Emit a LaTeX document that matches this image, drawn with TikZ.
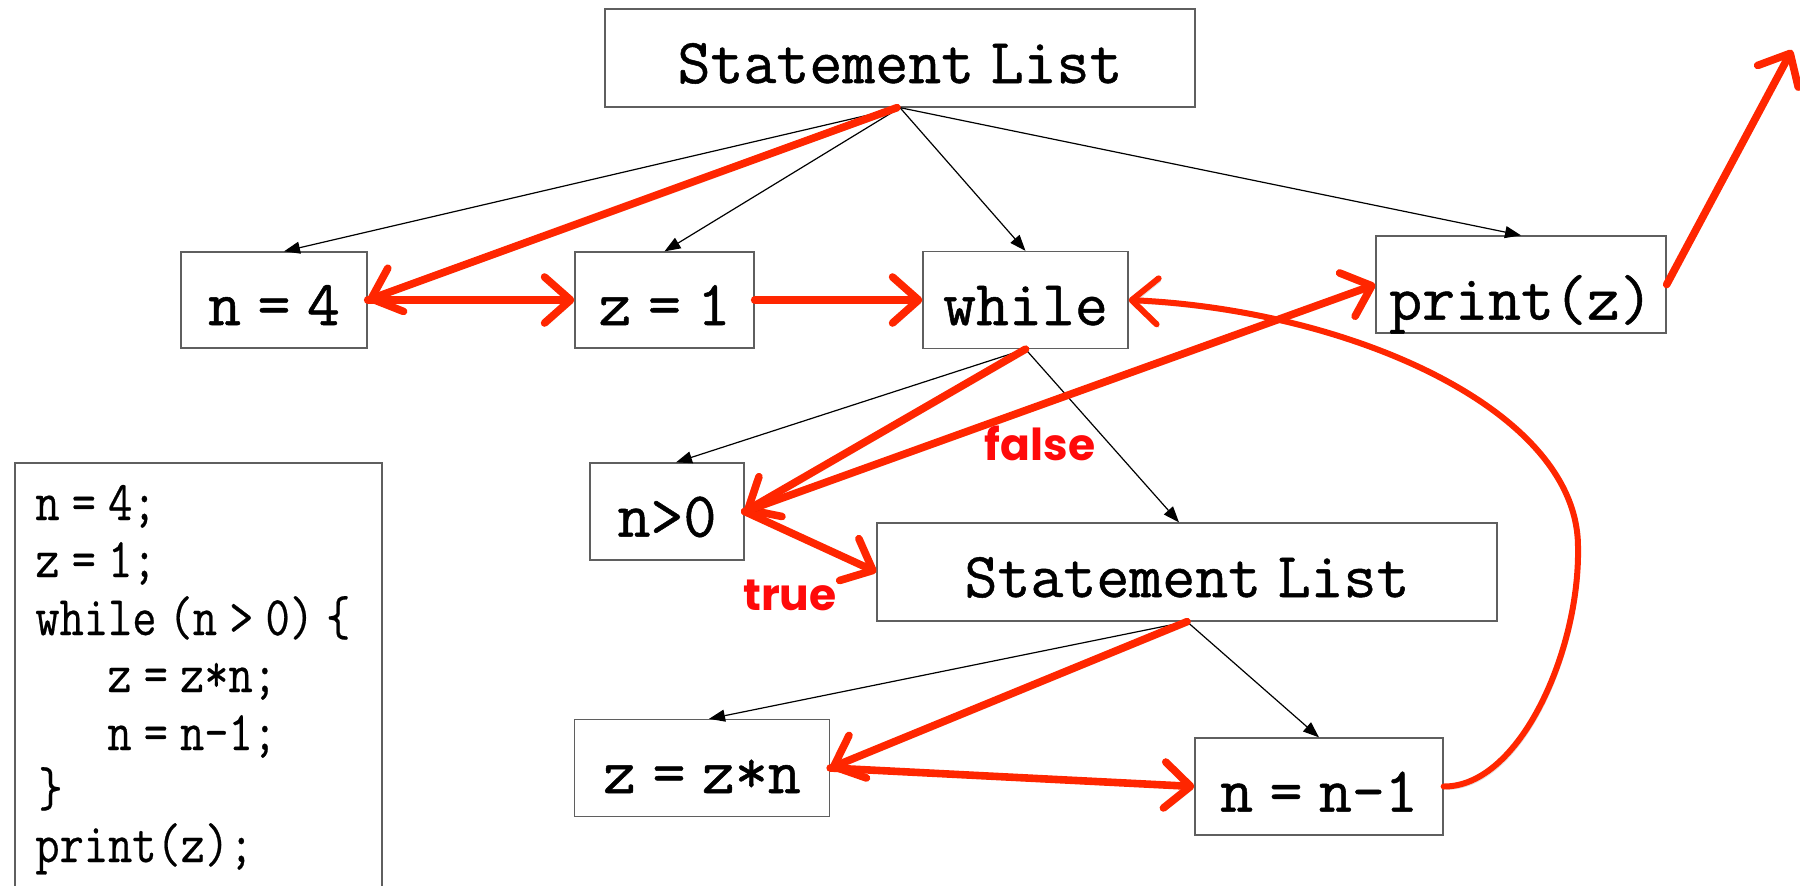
\documentclass[tikz,border=0pt]{standalone}
\usepackage{fontspec}
\setmonofont{Latin Modern Mono}[WordSpace=0.5,FakeBold=0.8]
\newfontfamily\codefont{Latin Modern Mono}[WordSpace=0.5,FakeStretch=0.84,FakeBold=0.4]
\newfontfamily\labfont{Poppins}
\usetikzlibrary{arrows.meta}
\definecolor{arrred}{RGB}{255,38,0}
\definecolor{labred}{RGB}{255,10,10}
\definecolor{boxgray}{RGB}{95,95,95}
\begin{document}
\begin{tikzpicture}[x=0.5pt,y=-0.5pt,
  box/.style={draw=boxgray,line width=0.65pt,inner sep=0pt,
    font=\ttfamily\fontsize{32}{38}\selectfont,text height=28.8pt,text depth=3.8pt},
  tree/.style={-{Triangle[length=8pt,width=6pt]},line width=0.6pt,black},
  flow/.style={-{Straight Barb[length=13pt,width=23pt,round]},line width=3.8pt,arrred,
    line cap=round,line join=round,
    preaction={draw=black,opacity=0.13,transform canvas={xshift=1pt,yshift=-1.5pt}}},
  lab/.style={text=labred,inner sep=0pt,font=\labfont\bfseries\fontsize{22}{26}\selectfont},
  codeline/.style={anchor=base west,inner sep=0pt,font=\codefont\fontsize{28}{32}\selectfont}
]
\useasboundingbox (0,0) rectangle (1800,885);

% boxes
\node[box,minimum width=295pt,minimum height=49pt] (topSL) at (900,58) {Statement List};
\node[box,minimum width=93pt,minimum height=48pt] (n4) at (274,300) {n = 4};
\node[box,minimum width=89.5pt,minimum height=48pt] (z1) at (664.5,300) {z = 1};
\node[box,minimum width=102.5pt,minimum height=48.5pt] (wh) at (1025.5,300) {while};
\node[box,minimum width=145pt,minimum height=48.5pt,text height=38pt,text depth=3pt] (pr) at (1521,284.5) {print(z)};
\node[box,minimum width=77pt,minimum height=48.5pt] (ngt) at (667,511.5) {n>0};
\node[box,minimum width=310pt,minimum height=49pt] (inSL) at (1187,572) {Statement List};
\node[box,minimum width=127.5pt,minimum height=48.5pt] (zzn) at (702,768) {z = z*n};
\node[box,minimum width=124pt,minimum height=48.5pt] (nn1) at (1319,786.5) {n = n-1};

% code listing
\draw[boxgray,line width=0.65pt] (15,463) rectangle (382,910);
\node[codeline] (c1) at (35,520) {n = 4;};
\node[codeline] (c2) at (35,577) {z = 1;};
\node[codeline] (c3) at (35,635) {while (n > 0) \{};
\node[codeline] (c4) at (107,692) {z = z*n;};
\node[codeline] (c5) at (107,750) {n = n-1;};
\node[codeline] (c6) at (38,806) {\}};
\node[codeline] (c7) at (35,862) {print(z);};

% tree edges
\draw[tree] (topSL.south) -- ([xshift=5pt]n4.north);
\draw[tree] (topSL.south) -- (z1.north);
\draw[tree] (topSL.south) -- (wh.north);
\draw[tree] (topSL.south) -- (pr.north);
\draw[tree] (wh.south) -- ([xshift=4.5pt]ngt.north);
\draw[tree] (wh.south) -- ([xshift=-4pt]inSL.north);
\draw[tree] (inSL.south) -- ([xshift=3.5pt]zzn.north);
\draw[tree] (inSL.south) -- (nn1.north);

% control flow
\coordinate (outTip) at (1792,50);
\draw[flow] ([xshift=-1.5pt]topSL.south) -- (n4.east);
\draw[flow] (n4.east) -- (z1.west);
\draw[flow] (z1.east) -- (wh.west);
\draw[flow] (wh.south) -- (ngt.east);
\draw[flow] (ngt.east) -- (pr.west);
\draw[flow] (ngt.east) -- (inSL.west);
\draw[flow] (inSL.south) -- (zzn.east);
\draw[flow] (zzn.east) -- (nn1.west);
\draw[flow,line width=3pt] (nn1.east) .. controls (1520,787) and (1580,650) .. (1578,547)
  .. controls (1578,410) and (1350,310) .. (wh.east);
\draw[flow] (pr.east) -- (outTip);

% labels
\node[lab] (lfalse) at (1040,443) {false};
\node[lab] (ltrue) at (790,595) {true};
\end{tikzpicture}
\end{document}
